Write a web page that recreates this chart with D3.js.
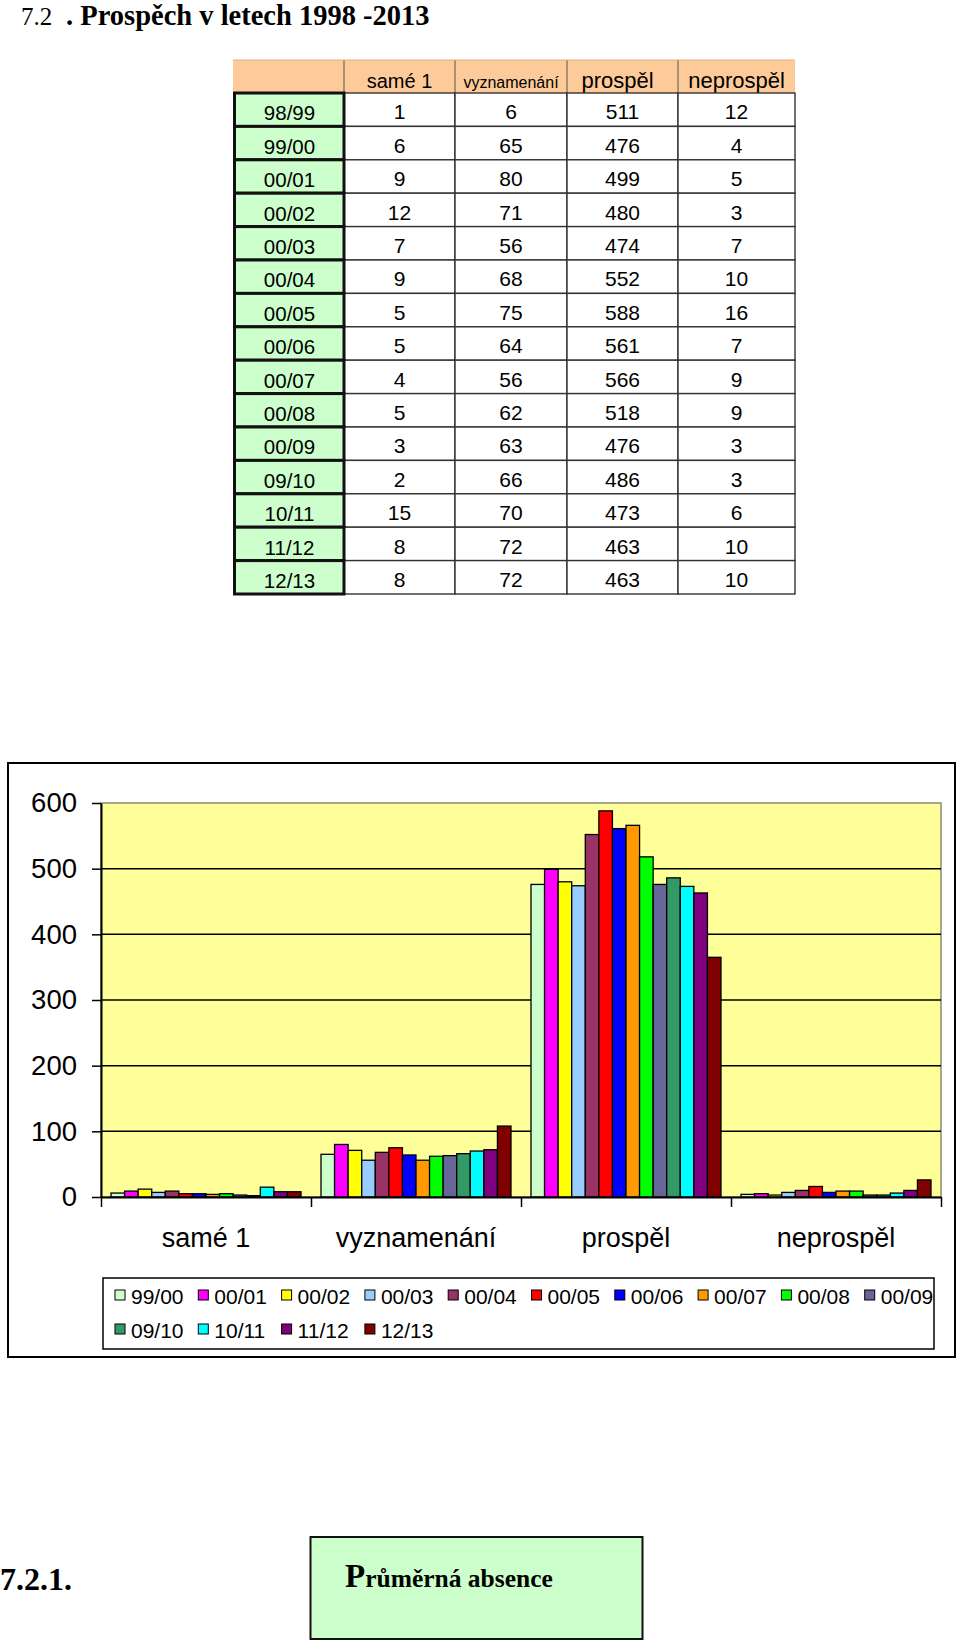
<!DOCTYPE html>
<html>
<head>
<meta charset="utf-8">
<script src="https://cdn.jsdelivr.net/npm/d3@7"></script>
<style>
  html, body { margin: 0; padding: 0; background: #fff; }
  svg { display: block; }
</style>
</head>
<body>
<svg id="page" width="960" height="1646"></svg>
<script>
// ---------- DATA ----------
const tableHeaders = ["samé 1", "vyznamenání", "prospěl", "neprospěl"];
const tableRowLabels = ["98/99","99/00","00/01","00/02","00/03","00/04","00/05","00/06","00/07","00/08","00/09","09/10","10/11","11/12","12/13"];
const tableSame1     = [1, 6, 9, 12, 7, 9, 5, 5, 4, 5, 3, 2, 15, 8, 8];
const tableVyzn      = [6, 65, 80, 71, 56, 68, 75, 64, 56, 62, 63, 66, 70, 72, 72];
const tableProspel   = [511, 476, 499, 480, 474, 552, 588, 561, 566, 518, 476, 486, 473, 463, 463];
const tableNeprospel = [12, 4, 5, 3, 7, 10, 16, 7, 9, 9, 3, 3, 6, 10, 10];

const categories = ["samé 1", "vyznamenání", "prospěl", "neprospěl"];
const seriesNames = ["99/00","00/01","00/02","00/03","00/04","00/05","00/06","00/07","00/08","00/09","09/10","10/11","11/12","12/13"];
const chartSame1     = [6, 9, 12, 7, 9, 5, 5, 4, 5, 3, 2, 15, 8, 8];
const chartVyzn      = [65, 80, 71, 56, 68, 75, 64, 56, 62, 63, 66, 70, 72, 108];
const chartProspel   = [476, 499, 480, 474, 552, 588, 561, 566, 518, 476, 486, 473, 463, 365];
const chartNeprospel = [4, 5, 3, 7, 10, 16, 7, 9, 9, 3, 3, 6, 10, 26];
const seriesColors = ["#CCFFCC","#FF00FF","#FFFF00","#99CCFF","#993366","#FF0000","#0000FF","#FF9900","#00FF00","#666699","#339966","#00FFFF","#800080","#800000"];
const yTicks = [0, 100, 200, 300, 400, 500, 600];

// ---------- PAGE ----------
const svg = d3.select("#page");
const SERIF = "'Liberation Serif','Times New Roman',serif";
const SANS = "'Liberation Sans',Arial,sans-serif";

// Title
const title = svg.append("text").attr("x", 21).attr("y", 25)
  .attr("font-family", SERIF).attr("fill", "#000");
title.append("tspan").attr("font-size", 25).text("7.2");
title.append("tspan").attr("x", 66).attr("font-size", 28.5).attr("font-weight", "bold")
  .text(". Prospěch v letech 1998 -2013");

// ---------- TABLE ----------
const colX = [233, 344, 455, 567, 678, 795];
const headTop = 60, headBottom = 93, rowH = 33.4;
const headFont = [20, 16, 22, 22];
const tableCols = [tableSame1, tableVyzn, tableProspel, tableNeprospel];
const tbl = svg.append("g");

// header
tbl.append("rect").attr("x", colX[0]).attr("y", headTop)
  .attr("width", colX[5] - colX[0]).attr("height", headBottom - headTop)
  .attr("fill", "#FDCB99");
tbl.selectAll("line.hsep").data(colX.slice(1, 5)).join("line")
  .attr("x1", d => d).attr("x2", d => d).attr("y1", headTop).attr("y2", headBottom)
  .attr("stroke", "#555").attr("stroke-width", 1);
tbl.append("line").attr("x1", colX[0]).attr("x2", colX[5]).attr("y1", headTop).attr("y2", headTop)
  .attr("stroke", "#d9b48a").attr("stroke-width", 1);
tbl.selectAll("text.head").data(tableHeaders).join("text")
  .attr("x", (d, i) => (colX[i + 1] + colX[i + 2]) / 2 - (i === 2 ? 5 : 0))
  .attr("y", headBottom - 5)
  .attr("text-anchor", "middle").attr("font-family", SANS)
  .attr("font-size", (d, i) => headFont[i]).attr("fill", "#000").text(d => d);

// data cells
const rows = tbl.selectAll("g.row").data(tableRowLabels).join("g")
  .attr("transform", (d, i) => `translate(0,${headBottom + i * rowH})`);
for (let c = 0; c < 4; c++) {
  rows.append("rect").attr("x", colX[c + 1]).attr("y", 0)
    .attr("width", colX[c + 2] - colX[c + 1]).attr("height", rowH)
    .attr("fill", "#fff").attr("stroke", "#333").attr("stroke-width", 1.4);
  rows.append("text").attr("x", (colX[c + 1] + colX[c + 2]) / 2).attr("y", rowH - 7)
    .attr("text-anchor", "middle").attr("font-family", SANS).attr("font-size", 21)
    .attr("fill", "#000").text((d, i) => tableCols[c][i]);
}
rows.append("rect").attr("x", colX[0] + 1.5).attr("y", 0)
  .attr("width", colX[1] - colX[0] - 1.5).attr("height", rowH)
  .attr("fill", "#CCFFCC").attr("stroke", "#111").attr("stroke-width", 3);
rows.append("text").attr("x", (colX[0] + colX[1]) / 2 + 1).attr("y", rowH - 6)
  .attr("text-anchor", "middle").attr("font-family", SANS).attr("font-size", 20.5)
  .attr("fill", "#000").text(d => d);

// ---------- CHART ----------
const chartBox = { x: 8, y: 763, w: 947, h: 594 };
svg.append("rect").attr("x", chartBox.x).attr("y", chartBox.y)
  .attr("width", chartBox.w).attr("height", chartBox.h)
  .attr("fill", "#fff").attr("stroke", "#000").attr("stroke-width", 2);

const plot = { left: 101, right: 941, top: 803, bottom: 1197 };
const y = d3.scaleLinear().domain([0, 600]).range([plot.bottom, plot.top]);
const x0 = d3.scaleBand().domain(categories).range([plot.left, plot.right]).padding(0);
const groupPad = 10;
const x1 = d3.scaleBand().domain(seriesNames)
  .range([groupPad, x0.bandwidth() - groupPad]).padding(0);

const chartData = [chartSame1, chartVyzn, chartProspel, chartNeprospel];

// plot area
svg.append("rect").attr("x", plot.left).attr("y", plot.top)
  .attr("width", plot.right - plot.left).attr("height", plot.bottom - plot.top)
  .attr("fill", "#FFFF99").attr("stroke", "#8a8a70").attr("stroke-width", 1.5);

// gridlines
svg.append("g").selectAll("line").data(yTicks.filter(t => t > 0 && t < 600)).join("line")
  .attr("x1", plot.left).attr("x2", plot.right)
  .attr("y1", d => y(d)).attr("y2", d => y(d))
  .attr("stroke", "#000").attr("stroke-width", 1.5);

// bars
const groups = svg.append("g").selectAll("g.cat").data(categories).join("g")
  .attr("transform", d => `translate(${x0(d)},0)`);
groups.each(function (cat, ci) {
  d3.select(this).selectAll("rect").data(seriesNames).join("rect")
    .attr("x", s => x1(s))
    .attr("width", x1.bandwidth())
    .attr("y", (s, si) => y(chartData[ci][si]))
    .attr("height", (s, si) => y(0) - y(chartData[ci][si]))
    .attr("fill", (s, si) => seriesColors[si])
    .attr("stroke", "#000").attr("stroke-width", 1.3);
});

// y axis
const yAxis = svg.append("g").attr("transform", `translate(${plot.left},0)`)
  .call(d3.axisLeft(y).tickValues(yTicks).tickSize(9).tickSizeOuter(0).tickPadding(15));
yAxis.select(".domain").attr("stroke", "#000").attr("stroke-width", 2);
yAxis.selectAll(".tick line").attr("stroke", "#000").attr("stroke-width", 1.5);
yAxis.selectAll(".tick text").attr("font-family", SANS).attr("font-size", 27.5).attr("fill", "#000");

// x axis (category boundary ticks)
const xEdge = d3.scaleLinear().domain([0, categories.length]).range([plot.left, plot.right]);
const xAxis = svg.append("g").attr("transform", `translate(0,${plot.bottom})`)
  .call(d3.axisBottom(xEdge).tickValues(d3.range(categories.length + 1))
    .tickFormat("").tickSize(10).tickSizeOuter(0));
xAxis.select(".domain").attr("stroke", "#000").attr("stroke-width", 2);
xAxis.selectAll(".tick line").attr("stroke", "#000").attr("stroke-width", 1.5);

svg.append("g").selectAll("text").data(categories).join("text")
  .attr("x", d => x0(d) + x0.bandwidth() / 2).attr("y", 1247)
  .attr("text-anchor", "middle").attr("font-family", SANS).attr("font-size", 27)
  .attr("fill", "#000").text(d => d);

// legend
const lg = { x: 103, y: 1278, w: 831, h: 71 };
svg.append("rect").attr("x", lg.x).attr("y", lg.y).attr("width", lg.w).attr("height", lg.h)
  .attr("fill", "#fff").attr("stroke", "#000").attr("stroke-width", 1.5);
const perRow = 10, pitch = 83.3;
const items = svg.append("g").selectAll("g").data(seriesNames).join("g")
  .attr("transform", (d, i) => `translate(${115 + (i % perRow) * pitch},${1304 + Math.floor(i / perRow) * 34})`);
items.append("rect").attr("x", 0).attr("y", -14).attr("width", 10).attr("height", 10)
  .attr("fill", (d, i) => seriesColors[i]).attr("stroke", "#000").attr("stroke-width", 1);
items.append("text").attr("x", 16).attr("y", 0)
  .attr("font-family", SANS).attr("font-size", 21).attr("fill", "#000").text(d => d);

// ---------- BOTTOM ----------
svg.append("text").attr("x", 0).attr("y", 1590)
  .attr("font-family", SERIF).attr("font-weight", "bold").attr("font-size", 32)
  .attr("fill", "#000").text("7.2.1.");
svg.append("rect").attr("x", 310.5).attr("y", 1537).attr("width", 332).attr("height", 102)
  .attr("fill", "#CCFFCC").attr("stroke", "#111").attr("stroke-width", 2);
const sub = svg.append("text").attr("x", 345).attr("y", 1587)
  .attr("font-family", SERIF).attr("font-weight", "bold").attr("fill", "#000");
sub.append("tspan").attr("font-size", 33).text("P");
sub.append("tspan").attr("font-size", 25.5).text("růměrná absence");
</script>
</body>
</html>
